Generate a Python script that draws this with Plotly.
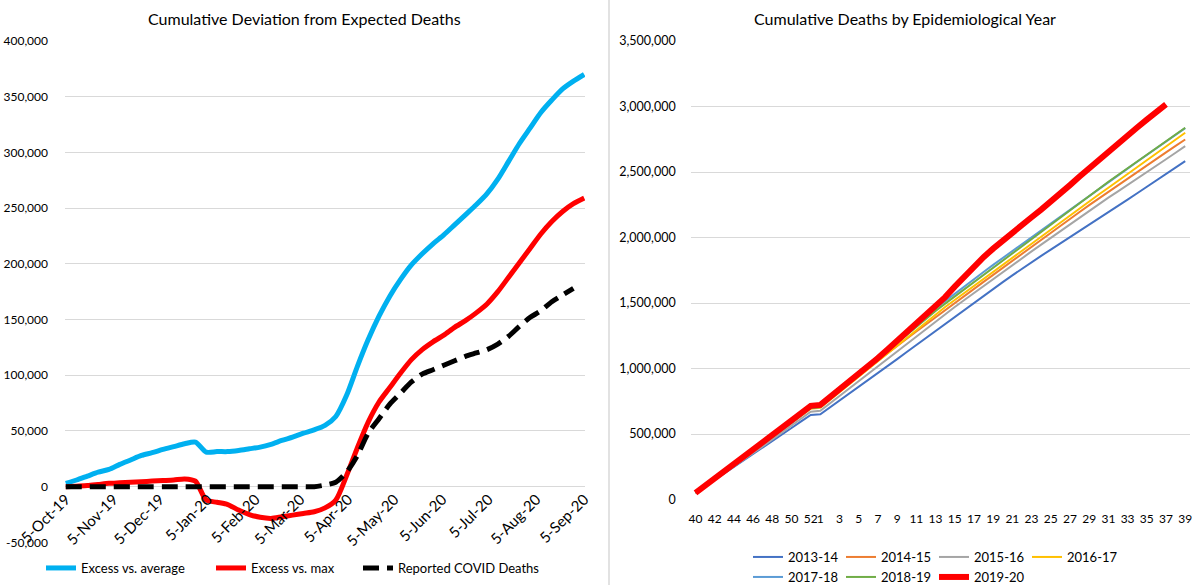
import pandas as pd
import plotly.graph_objects as go
from plotly.subplots import make_subplots

# ---- left panel: cumulative deviation from expected deaths (week ending Saturday)
week_ending = pd.date_range("2019-10-05", periods=49, freq="7D")

excess_vs_average = [
    3000, 6000, 9500, 13000, 15500, 20000, 24000, 28000, 30500, 33500,
    36000, 38500, 40000, 31000, 31500, 31500, 32500, 34000, 35500, 38000,
    41500, 44500, 48000, 51000, 55000, 63000, 82000, 108000, 132000, 153000,
    171000, 186000, 199000, 209000, 218000, 226000, 235000, 244000, 253000, 263000,
    276000, 292000, 308000, 322000, 336000, 347000, 357000, 364000, 370000,
]
excess_vs_max = [
    0, 500, 1000, 2000, 3000, 3500, 4000, 4500, 5000, 5500,
    6000, 7000, 5000, -12000, -14000, -16000, -21000, -25000, -27500, -28500,
    -27000, -25500, -24000, -22500, -19000, -12000, 10000, 35000, 58000, 76000,
    89000, 102000, 114000, 123000, 130000, 136000, 143000, 149000, 156000, 164000,
    175000, 188000, 201000, 214000, 227000, 238000, 247000, 254000, 259000,
]
reported_covid = [
    0, 0, 0, 0, 0, 0, 0, 0, 0, 0,
    0, 0, 0, 0, 0, 0, 0, 0, 0, 0,
    0, 0, 0, 0, 1500, 4000, 13000, 28000, 48000, 61000,
    74000, 84000, 94000, 101000, 105000, 109000, 113000, 117000, 120000, 123000,
    128000, 135000, 144000, 152000, 158000, 166000, 172000, 178000,
]
left_ticks = [-50000, 0, 50000, 100000, 150000, 200000, 250000, 300000, 350000, 400000]
month_ticks = pd.date_range("2019-10-01", "2020-09-01", freq="MS") + pd.Timedelta(days=4)

# ---- right panel: cumulative deaths by epidemiological year
epi_weeks = [str(w) for w in list(range(40, 53)) + list(range(1, 40))]
week_labels = ["40", "42", "44", "46", "48", "50", "52", "1", "3", "5", "7", "9", "11", "13",
               "15", "17", "19", "21", "23", "25", "27", "29", "31", "33", "35", "37", "39"]

y2013_14 = [
    50000, 99000, 148000, 197000, 247000, 296000, 346000, 396000, 446000, 496000,
    546000, 596000, 645000, 650000, 702000, 754000, 806000, 858000, 910000, 964000,
    1018000, 1072000, 1126000, 1180000, 1234000, 1288000, 1341000, 1394000, 1447000, 1500000,
    1553000, 1606000, 1659000, 1711000, 1762000, 1812000, 1860000, 1907000, 1954000, 2001000,
    2048000, 2095000, 2143000, 2191000, 2240000, 2289000, 2338000, 2387000, 2436000, 2485000,
    2534000, 2583000,
]
y2014_15 = [
    51000, 103000, 155000, 207000, 259000, 312000, 365000, 419000, 473000, 528000,
    584000, 641000, 700000, 708000, 770000, 831000, 890000, 948000, 1005000, 1061000,
    1117000, 1172000, 1227000, 1282000, 1337000, 1391000, 1445000, 1499000, 1553000, 1607000,
    1661000, 1715000, 1769000, 1823000, 1877000, 1931000, 1985000, 2038000, 2091000, 2143000,
    2195000, 2247000, 2298000, 2349000, 2400000, 2450000, 2500000, 2550000, 2600000, 2650000,
    2699000, 2748000,
]
y2015_16 = [
    50000, 100000, 150000, 200000, 251000, 302000, 354000, 406000, 458000, 510000,
    563000, 616000, 670000, 677000, 734000, 791000, 848000, 905000, 962000, 1019000,
    1076000, 1133000, 1190000, 1246000, 1302000, 1360000, 1415000, 1469000, 1523000, 1577000,
    1631000, 1685000, 1739000, 1790000, 1842000, 1894000, 1946000, 1998000, 2050000, 2102000,
    2154000, 2205000, 2256000, 2304000, 2352000, 2400000, 2449000, 2498000, 2547000, 2597000,
    2647000, 2697000,
]
y2016_17 = [
    50000, 103000, 156000, 209000, 262000, 315000, 368000, 422000, 476000, 530000,
    584000, 638000, 693000, 700000, 759000, 818000, 877000, 937000, 997000, 1057000,
    1117000, 1177000, 1237000, 1297000, 1356000, 1414000, 1469000, 1523000, 1577000, 1631000,
    1685000, 1739000, 1793000, 1847000, 1901000, 1955000, 2009000, 2063000, 2117000, 2170000,
    2223000, 2276000, 2328000, 2380000, 2432000, 2484000, 2537000, 2590000, 2643000, 2696000,
    2748000, 2800000,
]
y2017_18 = [
    50000, 103000, 156000, 209000, 262000, 315000, 368000, 421000, 475000, 530000,
    585000, 641000, 698000, 706000, 772000, 838000, 903000, 968000, 1032000, 1095000,
    1158000, 1220000, 1282000, 1342000, 1401000, 1459000, 1516000, 1572000, 1628000, 1683000,
    1737000, 1791000, 1844000, 1897000, 1950000, 2003000, 2056000, 2109000, 2162000, 2214000,
    2266000, 2318000, 2370000, 2422000, 2474000, 2526000, 2578000, 2630000, 2681000, 2732000,
    2783000, 2835000,
]
y2018_19 = [
    51000, 105000, 159000, 213000, 267000, 321000, 375000, 429000, 483000, 537000,
    591000, 645000, 699000, 706000, 766000, 826000, 886000, 947000, 1008000, 1070000,
    1132000, 1194000, 1256000, 1318000, 1379000, 1440000, 1495000, 1550000, 1605000, 1660000,
    1715000, 1770000, 1825000, 1880000, 1935000, 1990000, 2045000, 2100000, 2155000, 2210000,
    2265000, 2320000, 2375000, 2426000, 2477000, 2528000, 2579000, 2630000, 2682000, 2734000,
    2786000, 2838000,
]
y2019_20 = [
    50000, 105000, 160000, 215000, 270000, 325000, 380000, 436000, 492000, 548000,
    604000, 660000, 715000, 722000, 780000, 838000, 897000, 956000, 1015000, 1080000,
    1145000, 1210000, 1275000, 1340000, 1405000, 1472000, 1545000, 1625000, 1705000, 1780000,
    1850000, 1915000, 1978000, 2038000, 2097000, 2155000, 2213000, 2272000, 2335000, 2400000,
    2465000, 2530000, 2594000, 2657000, 2719000, 2780000, 2840000, 2900000, 2958000, 3016000,
]

FONT = "Lato"
GRID = "#D9D9D9"
W, H = 1200, 585

fig = make_subplots(rows=1, cols=2)

# left panel traces
fig.add_trace(go.Scatter(x=week_ending, y=excess_vs_average, name="Excess vs. average",
                         mode="lines", line=dict(color="#00B0F0", width=5, shape="spline", smoothing=0.7),
                         legend="legend", legendwidth=125), row=1, col=1)
fig.add_trace(go.Scatter(x=week_ending, y=excess_vs_max, name="Excess vs. max",
                         mode="lines", line=dict(color="#FF0000", width=5, shape="spline", smoothing=0.7),
                         legend="legend", legendwidth=102), row=1, col=1)
fig.add_trace(go.Scatter(x=week_ending[:len(reported_covid)], y=reported_covid, name="Reported COVID Deaths",
                         mode="lines", line=dict(color="#000000", width=5, dash="16px,8px", shape="spline", smoothing=0.7),
                         legend="legend"), row=1, col=1)

# right panel traces
years = [
    ("2013-14", y2013_14, "#4472C4", 2, "legend2"),
    ("2014-15", y2014_15, "#ED7D31", 2, "legend2"),
    ("2015-16", y2015_16, "#A5A5A5", 2, "legend2"),
    ("2016-17", y2016_17, "#FFC000", 2, "legend2"),
    ("2017-18", y2017_18, "#5B9BD5", 2, "legend3"),
    ("2018-19", y2018_19, "#70AD47", 2, "legend3"),
    ("2019-20", y2019_20, "#FF0000", 6, "legend3"),
]
for name, vals, color, width, leg in years:
    fig.add_trace(go.Scatter(x=epi_weeks[:len(vals)], y=vals, name=name, mode="lines",
                             line=dict(color=color, width=width), legend=leg, legendwidth=48),
                  row=1, col=2)

# plot-area geometry (paper fractions)
lx0, lx1 = 65 / W, 585 / W
ly0, ly1 = 1 - 542.4 / H, 1 - 41 / H
rx0, rx1 = 690.7 / W, 1190 / W
ry0, ry1 = 1 - 499.5 / H, 1 - 41 / H
zero_pos = ly0 + (0 - left_ticks[0]) / (left_ticks[-1] - left_ticks[0]) * (ly1 - ly0)

fig.update_layout(
    width=W, height=H,
    margin=dict(l=0, r=0, t=0, b=0, autoexpand=False),
    plot_bgcolor="white", paper_bgcolor="white",
    font=dict(family=FONT, size=13, color="#000000"),
    xaxis=dict(domain=[lx0, lx1], type="date", range=["2019-10-04 12:00", "2020-09-05 12:00"],
               anchor="free", position=zero_pos, tickvals=month_ticks, tickformat="%-d-%b-%y",
               tickangle=-45, showgrid=False, showline=False, ticks="", zeroline=False,
               tickfont=dict(family=FONT, size=15, color="#000000"), automargin=False),
    yaxis=dict(domain=[ly0, ly1], range=[left_ticks[0], left_ticks[-1]], tickvals=left_ticks,
               ticktext=[f"{v:,}" for v in left_ticks], gridcolor=GRID, gridwidth=1,
               zeroline=False, showline=False, ticks="", ticklabelstandoff=16,
               tickfont=dict(family=FONT, size=12, color="#000000"), automargin=False),
    xaxis2=dict(domain=[rx0, rx1], type="category", categoryorder="array", categoryarray=epi_weeks,
                range=[-0.5, len(epi_weeks) - 0.5], tickvals=week_labels, ticktext=week_labels,
                tickangle=0, showgrid=False, showline=False, ticks="", zeroline=False,
                ticklabelstandoff=10, tickfont=dict(family=FONT, size=12, color="#000000"),
                automargin=False),
    yaxis2=dict(domain=[ry0, ry1], range=[0, 3500000], dtick=500000, tickformat=",d",
                gridcolor=GRID, gridwidth=1, zeroline=False, showline=False, ticks="",
                ticklabelstandoff=14, tickfont=dict(family=FONT, size=12.5, color="#000000"),
                automargin=False),
    legend=dict(orientation="h", x=41 / W, xanchor="left", y=1 - 568 / H, yanchor="middle",
                font=dict(family=FONT, size=13), bgcolor="rgba(0,0,0,0)"),
    legend2=dict(orientation="h", x=748 / W, xanchor="left", y=1 - 557 / H, yanchor="middle",
                 font=dict(family=FONT, size=13), bgcolor="rgba(0,0,0,0)"),
    legend3=dict(orientation="h", x=748 / W, xanchor="left", y=1 - 577 / H, yanchor="middle",
                 font=dict(family=FONT, size=13), bgcolor="rgba(0,0,0,0)"),
    showlegend=True,
)

fig.add_annotation(text="Cumulative Deviation from Expected Deaths", x=304 / W, y=1 - 18 / H,
                   xref="paper", yref="paper", xanchor="center", yanchor="middle",
                   showarrow=False, font=dict(family=FONT, size=16))
fig.add_annotation(text="Cumulative Deaths by Epidemiological Year", x=905 / W, y=1 - 18 / H,
                   xref="paper", yref="paper", xanchor="center", yanchor="middle",
                   showarrow=False, font=dict(family=FONT, size=16))

# divider between the two charts
fig.add_shape(type="line", xref="paper", yref="paper", x0=609 / W, x1=609 / W, y0=0, y1=1,
              line=dict(color=GRID, width=1.5))

# page body margin would push the 1200x585 figure off the window
fig.write_html("out.html", config={"displayModeBar": False},
               post_script="document.body.style.margin = '0';")
